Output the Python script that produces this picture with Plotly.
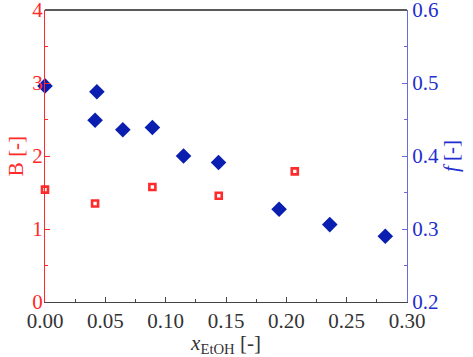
import plotly.graph_objects as go

# B data (red open squares, left axis)
x_B = [0.0, 0.0415, 0.089, 0.144, 0.207]
B_vals = [1.54, 1.35, 1.575, 1.456, 1.79]

# f data (blue diamonds, right axis)
x_f = [0.0, 0.043, 0.0415, 0.0645, 0.089, 0.1148, 0.1438, 0.194, 0.236, 0.282]
f_vals = [0.496, 0.488, 0.449, 0.436, 0.439, 0.400, 0.391, 0.327, 0.306, 0.290]

x_ticks = [0, 0.05, 0.10, 0.15, 0.20, 0.25, 0.30]
x_labels = ["0.00", "0.05", "0.10", "0.15", "0.20", "0.25", "0.30"]
B_ticks = [0, 1, 2, 3, 4]
f_ticks = [0.2, 0.3, 0.4, 0.5, 0.6]
f_labels = ["0.2", "0.3", "0.4", "0.5", "0.6"]

RED = "#ff2a2a"
BLUE = "#1f2fd0"
DIAMOND = "#0a1fb0"
AXG = "#444444"
FONT = "Liberation Serif"
FS = 21

fig = go.Figure()
fig.add_trace(go.Scatter(
    x=x_B, y=B_vals, mode="markers", yaxis="y",
    marker=dict(symbol="square-open", size=6, color=RED, line=dict(width=2.6, color=RED)),
    cliponaxis=False, showlegend=False))
fig.add_trace(go.Scatter(
    x=x_f, y=f_vals, mode="markers", yaxis="y2",
    marker=dict(symbol="diamond", size=12, color=DIAMOND, line=dict(width=0)),
    cliponaxis=False, showlegend=False))

# top frame line
fig.add_shape(type="line", xref="paper", yref="paper", x0=0, x1=1, y0=1, y1=1,
              line=dict(color="#222222", width=1.5), layer="above")

fig.update_layout(
    width=473, height=357,
    margin=dict(l=45, r=66, t=10, b=55),
    paper_bgcolor="white", plot_bgcolor="white",
    font=dict(family=FONT, size=FS, color="#333333"),
    xaxis=dict(
        range=[0, 0.30], tickvals=x_ticks, ticktext=x_labels, automargin=False,
        showgrid=False, zeroline=False, showline=True, linecolor=AXG, linewidth=1.2,
        ticks="inside", ticklen=5, tickcolor=AXG,
        minor=dict(dtick=0.025, tick0=0, ticks="inside", ticklen=3, tickcolor=AXG),
        tickfont=dict(family=FONT, size=FS, color="#333333"),
        title=dict(text="<i>x</i><sub>EtOH</sub> [-]", font=dict(family=FONT, size=FS, color="#333333"), standoff=0),
    ),
    xaxis2=dict(
        range=[0, 0.30], tickvals=x_ticks, overlaying="x", side="top", anchor="y",
        automargin=False, showticklabels=False,
        showgrid=False, zeroline=False, showline=True, linecolor="#222222", linewidth=1.2,
        ticks="inside", ticklen=5, tickcolor=AXG,
        minor=dict(dtick=0.025, tick0=0, ticks="inside", ticklen=3, tickcolor=AXG),
    ),
    yaxis=dict(
        range=[0, 4], tickvals=B_ticks, automargin=False, ticklabeloverflow="allow",
        showgrid=False, zeroline=False, showline=True, linecolor=RED, linewidth=1.2,
        ticks="inside", ticklen=5, tickcolor=RED,
        minor=dict(dtick=0.5, tick0=0, ticks="inside", ticklen=3, tickcolor=RED),
        tickfont=dict(family=FONT, size=FS, color=RED),
        ticklabelstandoff=-3,
        title=dict(text="B [-]", font=dict(family=FONT, size=FS, color=RED), standoff=2),
    ),
    yaxis2=dict(
        range=[0.2, 0.6], tickvals=f_ticks, ticktext=f_labels, automargin=False,
        ticklabeloverflow="allow",
        overlaying="y", side="right", anchor="x",
        showgrid=False, zeroline=False, showline=True, linecolor="#6a6ae0", linewidth=1.2,
        ticks="inside", ticklen=5, tickcolor="#6a6ae0",
        minor=dict(dtick=0.05, tick0=0.2, ticks="inside", ticklen=3, tickcolor="#6a6ae0"),
        tickfont=dict(family=FONT, size=FS, color=BLUE),
        title=dict(text="<i>f</i> [-]", font=dict(family=FONT, size=FS, color=BLUE), standoff=4),
    ),
)

fig.write_html("out.html", config={"displayModeBar": False},
               post_script="document.body.style.margin='0';")
